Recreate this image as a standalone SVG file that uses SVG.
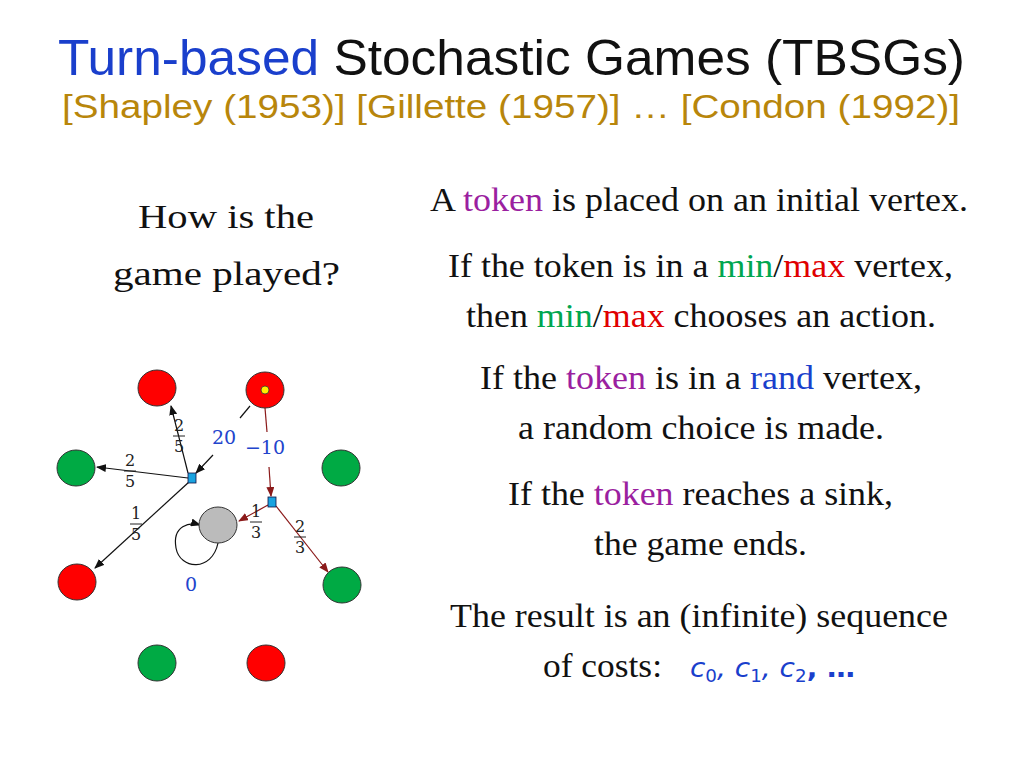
<svg xmlns="http://www.w3.org/2000/svg" width="1024" height="768" viewBox="0 0 1024 768">
<defs>
<style>
.t{font-family:"Liberation Sans",Arial,sans-serif}
.s{font-family:"Liberation Serif","Times New Roman",serif;font-size:34px;fill:#111}
.f{font-family:"DejaVu Serif","Liberation Serif",serif;font-size:16px;fill:#222;text-anchor:middle}
.c{font-family:"DejaVu Serif","Liberation Serif",serif;font-size:19px;fill:#2244cc;text-anchor:middle}
.red{fill:#ff0000;stroke:#333;stroke-width:1}
.grn{fill:#00aa44;stroke:#333;stroke-width:1}
.e{stroke:#111;stroke-width:1.2;fill:none;marker-end:url(#a)}
.er{stroke:#8b1a1a;stroke-width:1.2;fill:none;marker-end:url(#ar)}
.tk{fill:#9b1fa0}.mn{fill:#00a650}.mx{fill:#e00000}.rd{fill:#1a3fcc}
</style>
<marker id="a" markerWidth="10" markerHeight="8" refX="9" refY="4" orient="auto" markerUnits="userSpaceOnUse"><path d="M0,0L10,4L0,8z" fill="#111"/></marker>
<marker id="ar" markerWidth="10" markerHeight="8" refX="9" refY="4" orient="auto" markerUnits="userSpaceOnUse"><path d="M0,0L10,4L0,8z" fill="#8b1a1a"/></marker>
</defs>
<rect width="1024" height="768" fill="#fff"/>
<text class="t" x="58" y="75" font-size="50" textLength="907" lengthAdjust="spacingAndGlyphs"><tspan fill="#1a3fcc">Turn-based</tspan><tspan fill="#111"> Stochastic Games (TBSGs)</tspan></text>
<text class="t" x="62" y="118" font-size="34" fill="#b8860b" textLength="898" lengthAdjust="spacingAndGlyphs">[Shapley (1953)] [Gillette (1957)] … [Condon (1992)]</text>
<text class="s" x="138" y="228" textLength="176" lengthAdjust="spacingAndGlyphs">How is the</text>
<text class="s" x="113" y="285" textLength="227" lengthAdjust="spacingAndGlyphs">game played?</text>
<text class="s" x="430" y="211" textLength="538" lengthAdjust="spacingAndGlyphs">A <tspan class="tk">token</tspan> is placed on an initial vertex.</text>
<text class="s" x="448" y="277" textLength="505" lengthAdjust="spacingAndGlyphs">If the token is in a <tspan class="mn">min</tspan>/<tspan class="mx">max</tspan> vertex,</text>
<text class="s" x="466" y="327" textLength="470" lengthAdjust="spacingAndGlyphs">then <tspan class="mn">min</tspan>/<tspan class="mx">max</tspan> chooses an action.</text>
<text class="s" x="480" y="389" textLength="442" lengthAdjust="spacingAndGlyphs">If the <tspan class="tk">token</tspan> is in a <tspan class="rd">rand</tspan> vertex,</text>
<text class="s" x="518" y="439" textLength="366" lengthAdjust="spacingAndGlyphs">a random choice is made.</text>
<text class="s" x="508" y="505" textLength="385" lengthAdjust="spacingAndGlyphs">If the <tspan class="tk">token</tspan> reaches a sink,</text>
<text class="s" x="594" y="555" textLength="213" lengthAdjust="spacingAndGlyphs">the game ends.</text>
<text class="s" x="450" y="627" textLength="498" lengthAdjust="spacingAndGlyphs">The result is an (infinite) sequence</text>
<text class="s" x="543" y="677" textLength="119" lengthAdjust="spacingAndGlyphs">of costs:</text>
<text x="690" y="677" font-family="DejaVu Sans,sans-serif" font-size="26" font-style="italic" fill="#1a3fcc" textLength="165" lengthAdjust="spacingAndGlyphs">c<tspan font-size="17" dy="5" font-style="normal">0</tspan><tspan dy="-5">, c</tspan><tspan font-size="17" dy="5" font-style="normal">1</tspan><tspan dy="-5">, c</tspan><tspan font-size="17" dy="5" font-style="normal">2</tspan><tspan dy="-5" font-style="normal" font-weight="bold">, …</tspan></text>
<g id="connectors">
<line x1="250" y1="406" x2="240" y2="418" stroke="#111" stroke-width="1.2"/>
<line class="e" x1="213" y1="455" x2="196" y2="473"/>
<line x1="265" y1="408" x2="267" y2="432" stroke="#8b1a1a" stroke-width="1.2"/>
<line class="er" x1="269" y1="467" x2="271" y2="496"/>
<line class="e" x1="188" y1="473" x2="171" y2="406"/>
<line class="e" x1="188" y1="478" x2="97" y2="467"/>
<line class="e" x1="189" y1="482" x2="95" y2="568"/>
<line class="er" x1="268" y1="505" x2="239" y2="521"/>
<line class="er" x1="276" y1="506" x2="328" y2="572"/>
<path class="e" d="M218,543C212,572 180,570 176,548C172,525 190,522 200,525" stroke-width="1"/>
</g>
<g id="labels">
<text class="c" x="224" y="444">20</text>
<text class="c" x="265" y="454">−10</text>
<text class="c" x="191" y="591">0</text>
<text x="179" y="431" class="f">2</text><line x1="173" y1="436" x2="185" y2="436" stroke="#222"/><text x="179" y="452" class="f">5</text>
<text x="130" y="466" class="f">2</text><line x1="124" y1="471" x2="136" y2="471" stroke="#222"/><text x="130" y="487" class="f">5</text>
<text x="136" y="519" class="f">1</text><line x1="130" y1="524" x2="142" y2="524" stroke="#222"/><text x="136" y="540" class="f">5</text>
<text x="256" y="517" class="f">1</text><line x1="250" y1="522" x2="262" y2="522" stroke="#222"/><text x="256" y="538" class="f">3</text>
<text x="300" y="532" class="f">2</text><line x1="294" y1="537" x2="306" y2="537" stroke="#222"/><text x="300" y="553" class="f">3</text>
</g>
<g id="n1"><ellipse class="red" cx="157" cy="388" rx="19" ry="18"/></g>
<g id="n2"><ellipse class="red" cx="265" cy="390" rx="19" ry="18"/><circle cx="265" cy="390" r="4" fill="#ffee00" stroke="#333" stroke-width="0.8"/></g>
<g id="n3"><ellipse class="grn" cx="76" cy="468" rx="19" ry="18"/></g>
<g id="n4"><ellipse class="grn" cx="341" cy="468" rx="19" ry="18"/></g>
<g id="r1"><rect x="188" y="473" width="8" height="10" fill="#1aa3e0" stroke="#114" stroke-width="0.8"/></g>
<g id="r2"><rect x="268" y="497" width="8" height="10" fill="#1aa3e0" stroke="#114" stroke-width="0.8"/></g>
<g id="n5"><ellipse cx="218" cy="525" rx="19" ry="18" fill="#bbb" stroke="#333"/></g>
<g id="n6"><ellipse class="red" cx="77" cy="582" rx="19" ry="18"/></g>
<g id="n7"><ellipse class="grn" cx="342" cy="585" rx="19" ry="18"/></g>
<g id="n8"><ellipse class="grn" cx="157" cy="663" rx="19" ry="18"/></g>
<g id="n9"><ellipse class="red" cx="266" cy="663" rx="19" ry="18"/></g>
</svg>
